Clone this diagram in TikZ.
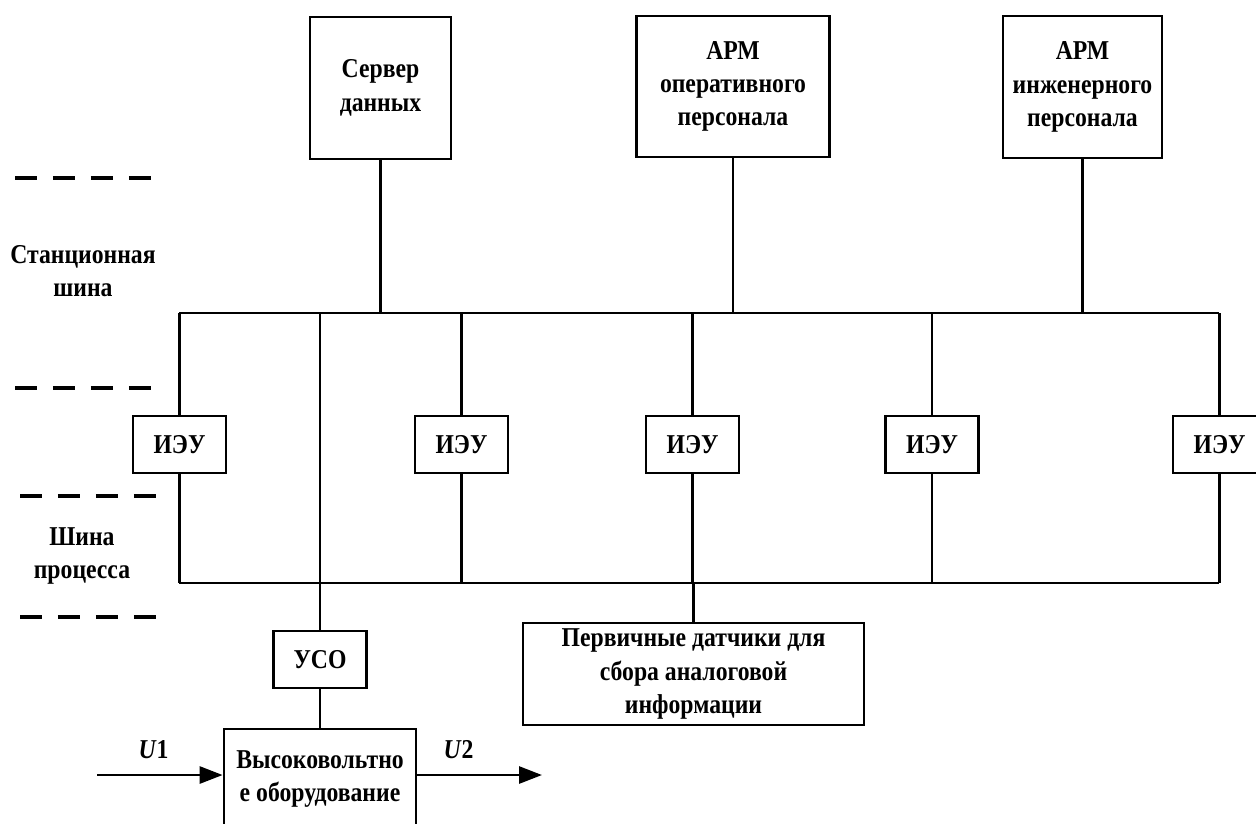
\documentclass[tikz,border=0pt]{standalone}
\usepackage{fontspec}
\setmainfont[FakeStretch=0.87]{Liberation Serif}
\usetikzlibrary{arrows.meta}

\begin{document}
\begin{tikzpicture}[
  x=0.02cm, y=-0.02cm,
  font=\fontsize{15.5}{19}\selectfont\bfseries,
  box/.style={rectangle, draw, line width=1.6pt, align=center, inner sep=0pt},
  ied/.style={box, minimum width=1.86cm, minimum height=1.14cm},
  bus/.style={line width=1.6pt},
  arr/.style={-{Triangle[length=4.6mm, width=3.4mm]}, line width=1.6pt},
  divider/.style={line width=2pt, dash pattern=on 0.44cm off 0.32cm},
  lbl/.style={font=\fontsize{15.5}{19}\selectfont\bfseries},
]
  \path[use as bounding box] (0,0) rectangle (1256,823);

  % Level separators
  \foreach \xa/\xb/\yy in {15/152/178, 15/152/388, 20/157/496, 20/157/617}
    \draw[divider] (\xa,\yy) -- (\xb,\yy);
  \node[lbl, align=center] (stlbl) at (83,271) {Станционная\\шина};
  \node[lbl, align=center] (prlbl) at (82,556) {Шина\\процесса};

  % Station level
  \node[box, minimum width=2.82cm, minimum height=2.84cm] (srv) at (380.5,88) {Сервер\\данных};
  \node[box, minimum width=3.86cm, minimum height=2.82cm] (armop) at (733,86.5) {АРМ\\оперативного\\персонала};
  \node[box, minimum width=3.18cm, minimum height=2.84cm] (armeng) at (1082.5,87) {АРМ\\инженерного\\персонала};

  % Buses
  \coordinate (sbL) at (179,313);
  \coordinate (sbR) at (1219,313);
  \coordinate (pbL) at (179,583);
  \coordinate (pbR) at (1219,583);
  \draw[bus] (sbL) -- (sbR);
  \draw[bus] (pbL) -- (pbR);

  % Bay level
  \node[ied] (ieu1) at (179.5,444.5) {ИЭУ};
  \node[ied] (ieu2) at (461.5,444.5) {ИЭУ};
  \node[ied] (ieu3) at (692.5,444.5) {ИЭУ};
  \node[ied] (ieu4) at (932,444.5) {ИЭУ};
  \node[ied] (ieu5) at (1219.5,444.5) {ИЭУ};

  % Process level
  \node[ied] (uso) at (320,659.5) {УСО};
  \node[box, minimum width=6.82cm, minimum height=2.04cm] (sens) at (693.5,674) {Первичные датчики для\\сбора аналоговой\\информации};
  \node[box, minimum width=3.84cm, minimum height=2.0cm] (hv) at (320,779) {Высоковольтно\\е оборудование};

  % Connections
  \draw[bus] (srv) -- (srv |- sbL);
  \draw[bus] (armop) -- (armop |- sbL);
  \draw[bus] (armeng) -- (armeng |- sbL);
  \foreach \n in {ieu1,ieu2,ieu3,ieu4,ieu5} {
    \draw[bus] (\n) -- (\n |- sbL);
    \draw[bus] (\n) -- (\n |- pbL);
  }
  \draw[bus] (uso) -- (uso |- sbL);
  \draw[bus] (uso) -- (hv);
  \draw[bus] (sens) -- (sens |- pbL);

  % Voltages
  \coordinate (u1) at (97,775);
  \coordinate (u2) at (542,775);
  \draw[arr] (u1) -- (u1 -| hv.west) node[lbl, pos=0.45, yshift=0.5cm] {\textit{U}1};
  \draw[arr] (u1 -| hv.east) -- (u2) node[lbl, pos=0.33, yshift=0.5cm] {\textit{U}2};
\end{tikzpicture}
\end{document}
